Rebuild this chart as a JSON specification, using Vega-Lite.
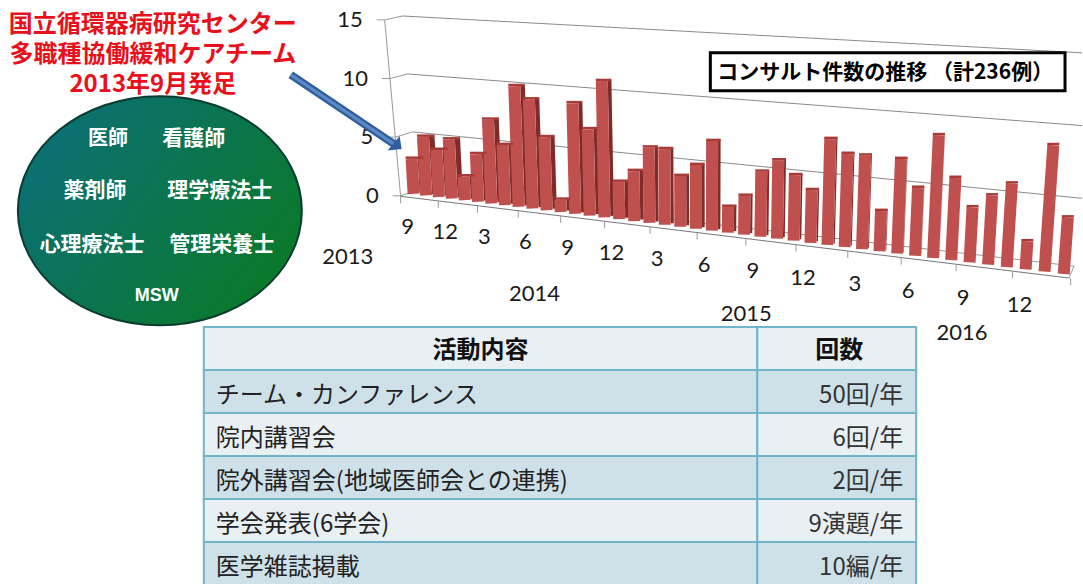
{"$schema":"https://vega.github.io/schema/vega-lite/v6.json","width":1083,"height":584,"padding":0,"autosize":{"type":"fit","contains":"padding"},"background":"white","config":{"view":{"stroke":null},"axis":{"disable":true},"text":{"font":"Noto Sans CJK JP"}},
"datasets":{
"bars":[{"i":0,"month":"2013-09","count":3},{"i":1,"month":"2013-10","count":5},{"i":2,"month":"2013-11","count":4},{"i":3,"month":"2013-12","count":5},{"i":4,"month":"2014-01","count":2},{"i":5,"month":"2014-02","count":4},{"i":6,"month":"2014-03","count":7},{"i":7,"month":"2014-04","count":5},{"i":8,"month":"2014-05","count":10},{"i":9,"month":"2014-06","count":9},{"i":10,"month":"2014-07","count":6},{"i":11,"month":"2014-08","count":1},{"i":12,"month":"2014-09","count":9},{"i":13,"month":"2014-10","count":7},{"i":14,"month":"2014-11","count":11},{"i":15,"month":"2014-12","count":3},{"i":16,"month":"2015-01","count":4},{"i":17,"month":"2015-02","count":6},{"i":18,"month":"2015-03","count":6},{"i":19,"month":"2015-04","count":4},{"i":20,"month":"2015-05","count":5},{"i":21,"month":"2015-06","count":7},{"i":22,"month":"2015-07","count":2},{"i":23,"month":"2015-08","count":3},{"i":24,"month":"2015-09","count":5},{"i":25,"month":"2015-10","count":6},{"i":26,"month":"2015-11","count":5},{"i":27,"month":"2015-12","count":4},{"i":28,"month":"2016-01","count":8},{"i":29,"month":"2016-02","count":7},{"i":30,"month":"2016-03","count":7},{"i":31,"month":"2016-04","count":3},{"i":32,"month":"2016-05","count":7},{"i":33,"month":"2016-06","count":5},{"i":34,"month":"2016-07","count":9},{"i":35,"month":"2016-08","count":6},{"i":36,"month":"2016-09","count":4},{"i":37,"month":"2016-10","count":5},{"i":38,"month":"2016-11","count":6},{"i":39,"month":"2016-12","count":2},{"i":40,"month":"2017-01","count":9},{"i":41,"month":"2017-02","count":4}],
"yticks":[{"value":15},{"value":10},{"value":5},{"value":0}],
"xticks":[{"k":0,"label":"9"},{"k":1,"label":"12"},{"k":2,"label":"3"},{"k":3,"label":"6"},{"k":4,"label":"9"},{"k":5,"label":"12"},{"k":6,"label":"3"},{"k":7,"label":"6"},{"k":8,"label":"9"},{"k":9,"label":"12"},{"k":10,"label":"3"},{"k":11,"label":"6"},{"k":12,"label":"9"},{"k":13,"label":"12"},{"k":14,"label":""}],
"table":[{"row":"header","activity":"活動内容","times":"回数"},{"row":"r1","activity":"チーム・カンファレンス","times":"50回/年"},{"row":"r2","activity":"院内講習会","times":"6回/年"},{"row":"r3","activity":"院外講習会(地域医師会との連携)","times":"2回/年"},{"row":"r4","activity":"学会発表(6学会)","times":"9演題/年"},{"row":"r5","activity":"医学雑誌掲載","times":"10編/年"}]
},
"layer":[
{"layer":[
 {"data":{"name":"yticks"},
  "transform":[{"calculate":"401-datum.value*16/15","as":"fx"},{"calculate":"196.5-datum.value*11.77","as":"fy"},{"calculate":"418-datum.value","as":"bx"},{"calculate":"190.5-datum.value*11.63","as":"by"},{"calculate":"272-datum.value*14.6","as":"ry"},{"calculate":"datum.fx-8","as":"tl"},{"calculate":"1083","as":"re"},{"calculate":"datum.fx-22","as":"lx"}],
  "layer":[
  {"mark":{"type":"rule","color":"#999999","strokeWidth":1},"encoding":{"x":{"field":"tl","type":"quantitative","scale":{"domain":[0,1083]}},"x2":{"field":"fx"},"y":{"field":"fy","type":"quantitative","scale":{"domain":[0,584],"reverse":true}},"y2":{"field":"fy"}}},
  {"mark":{"type":"rule","color":"#999999","strokeWidth":1},"encoding":{"x":{"field":"fx","type":"quantitative","scale":{"domain":[0,1083]}},"x2":{"field":"bx"},"y":{"field":"fy","type":"quantitative","scale":{"domain":[0,584],"reverse":true}},"y2":{"field":"by"}}},
  {"transform":[{"filter":"datum.value>0"}],"mark":{"type":"rule","color":"#8a8a8a","strokeWidth":1},"encoding":{"x":{"field":"bx","type":"quantitative","scale":{"domain":[0,1083]}},"x2":{"field":"re"},"y":{"field":"by","type":"quantitative","scale":{"domain":[0,584],"reverse":true}},"y2":{"field":"ry"}}},
  {"mark":{"type":"text","font":"Lato","fontSize":22,"align":"right","baseline":"middle","color":"#1a1a1a"},"encoding":{"x":{"field":"lx","type":"quantitative","scale":{"domain":[0,1083]}},"y":{"field":"fy","type":"quantitative","scale":{"domain":[0,584],"reverse":true}},"text":{"field":"value","type":"quantitative"}}}
 ]},
 {"data":{"values":[{"edge":"axis"}]},"mark":{"type":"rule","color":"#999999","strokeWidth":1},"encoding":{"x":{"datum":385,"scale":{"domain":[0,1083]}},"x2":{"datum":401},"y":{"datum":20,"scale":{"domain":[0,584],"reverse":true}},"y2":{"datum":197}}},
 {"data":{"values":[{"edge":"floor back"}]},"mark":{"type":"rule","color":"#999999","strokeWidth":1},"encoding":{"x":{"datum":418,"scale":{"domain":[0,1083]}},"x2":{"datum":1075},"y":{"datum":190.5,"scale":{"domain":[0,584],"reverse":true}},"y2":{"datum":267}}},
 {"data":{"values":[{"edge":"floor front"}]},"mark":{"type":"rule","color":"#777777","strokeWidth":1},"encoding":{"x":{"datum":401,"scale":{"domain":[0,1083]}},"x2":{"datum":1070},"y":{"datum":197,"scale":{"domain":[0,584],"reverse":true}},"y2":{"datum":279}}},
 {"data":{"values":[{"edge":"floor right"}]},"mark":{"type":"rule","color":"#999999","strokeWidth":1},"encoding":{"x":{"datum":1070,"scale":{"domain":[0,1083]}},"x2":{"datum":1075},"y":{"datum":279,"scale":{"domain":[0,584],"reverse":true}},"y2":{"datum":267}}},
 {"data":{"name":"xticks"},
  "transform":[{"calculate":"401+36.9*datum.k+0.786*datum.k*datum.k","as":"tx"},{"calculate":"197+(datum.tx-401)*0.1226","as":"t0"},{"calculate":"datum.t0+7","as":"t1"},{"calculate":"datum.tx+7","as":"lx"},{"calculate":"228+(datum.lx-407)*0.128","as":"ly"}],
  "layer":[
  {"mark":{"type":"rule","color":"#999999","strokeWidth":1},"encoding":{"x":{"field":"tx","type":"quantitative","scale":{"domain":[0,1083]}},"y":{"field":"t0","type":"quantitative","scale":{"domain":[0,584],"reverse":true}},"y2":{"field":"t1"}}},
  {"mark":{"type":"text","font":"Lato","fontSize":22,"align":"center","baseline":"middle","color":"#1a1a1a"},"encoding":{"x":{"field":"lx","type":"quantitative","scale":{"domain":[0,1083]}},"y":{"field":"ly","type":"quantitative","scale":{"domain":[0,584],"reverse":true}},"text":{"field":"label","type":"nominal"}}}
 ]},
 {"data":{"name":"bars"},
  "transform":[{"calculate":"414+12.48*datum.i+0.0827*datum.i*datum.i","as":"bx"},{"calculate":"194.5+(datum.bx-414)*0.1237","as":"by"},{"calculate":"datum.count*(11.7+(datum.bx-414)*0.0038)","as":"h"},{"calculate":"datum.bx+datum.h*(datum.bx-700)*0.0002","as":"tx"},{"calculate":"datum.by-datum.h","as":"ty"},{"calculate":"max(0,(950-datum.bx)*0.0105)","as":"sw"},{"calculate":"datum.bx+6+datum.sw/2","as":"sbx"},{"calculate":"datum.tx+6+datum.sw/2","as":"stx"},{"calculate":"datum.by-1.5","as":"sby"},{"calculate":"datum.ty-1.5","as":"sty"},{"calculate":"datum.tx-6","as":"cl"},{"calculate":"datum.tx+6+datum.sw","as":"cr"},{"calculate":"datum.ty-1.2","as":"cy"}],
  "layer":[
  {"mark":{"type":"rule","color":"#7f2b29"},"encoding":{"x":{"field":"sbx","type":"quantitative","scale":{"domain":[0,1083]}},"x2":{"field":"stx"},"y":{"field":"sby","type":"quantitative","scale":{"domain":[0,584],"reverse":true}},"y2":{"field":"sty"},"size":{"field":"sw","type":"quantitative","scale":null}}},
  {"mark":{"type":"rule","color":"#c0504d","strokeWidth":12},"encoding":{"x":{"field":"bx","type":"quantitative","scale":{"domain":[0,1083]}},"x2":{"field":"tx"},"y":{"field":"by","type":"quantitative","scale":{"domain":[0,584],"reverse":true}},"y2":{"field":"ty"}}},
  {"mark":{"type":"rule","color":"#a83b38","strokeWidth":2.5},"encoding":{"x":{"field":"cl","type":"quantitative","scale":{"domain":[0,1083]}},"x2":{"field":"cr"},"y":{"field":"cy","type":"quantitative","scale":{"domain":[0,584],"reverse":true}},"y2":{"field":"cy"}}}
 ]},
 {"data":{"values":[{"year":"2013"}]},"mark":{"type":"text","font":"Lato","fontSize":22,"align":"center","baseline":"middle","color":"#1a1a1a"},"encoding":{"x":{"datum":348,"scale":{"domain":[0,1083]}},"y":{"datum":258,"scale":{"domain":[0,584],"reverse":true}},"text":{"field":"year"}}},
 {"data":{"values":[{"year":"2014"}]},"mark":{"type":"text","font":"Lato","fontSize":22,"align":"center","baseline":"middle","color":"#1a1a1a"},"encoding":{"x":{"datum":535,"scale":{"domain":[0,1083]}},"y":{"datum":295,"scale":{"domain":[0,584],"reverse":true}},"text":{"field":"year"}}},
 {"data":{"values":[{"year":"2015"}]},"mark":{"type":"text","font":"Lato","fontSize":22,"align":"center","baseline":"middle","color":"#1a1a1a"},"encoding":{"x":{"datum":747,"scale":{"domain":[0,1083]}},"y":{"datum":315,"scale":{"domain":[0,584],"reverse":true}},"text":{"field":"year"}}},
 {"data":{"values":[{"year":"2016"}]},"mark":{"type":"text","font":"Lato","fontSize":22,"align":"center","baseline":"middle","color":"#1a1a1a"},"encoding":{"x":{"datum":963,"scale":{"domain":[0,1083]}},"y":{"datum":334,"scale":{"domain":[0,584],"reverse":true}},"text":{"field":"year"}}},
 {"data":{"values":[{"note":"arrow shaft"}]},"mark":{"type":"rule","color":"#2f5f9f","strokeWidth":8},"encoding":{"x":{"datum":291,"scale":{"domain":[0,1083]}},"x2":{"datum":395},"y":{"datum":75,"scale":{"domain":[0,584],"reverse":true}},"y2":{"datum":145}}},
 {"data":{"values":[{"note":"arrow shaft highlight"}]},"mark":{"type":"rule","color":"#5f8ac4","strokeWidth":3},"encoding":{"x":{"datum":291,"scale":{"domain":[0,1083]}},"x2":{"datum":395},"y":{"datum":75,"scale":{"domain":[0,584],"reverse":true}},"y2":{"datum":145}}},
 {"data":{"values":[{"note":"arrow head"}]},"mark":{"type":"point","shape":"M0,0 L-14,1.5 L-2,-13 Z","size":4,"filled":true,"fill":"#2f5f9f","opacity":1},"encoding":{"x":{"datum":402,"scale":{"domain":[0,1083]}},"y":{"datum":149.5,"scale":{"domain":[0,584],"reverse":true}}}},
 {"data":{"values":[{"note":"title box"}]},"mark":{"type":"rect","fill":"white","stroke":"black","strokeWidth":3},"encoding":{"x":{"datum":711,"scale":{"domain":[0,1083]}},"x2":{"datum":1066},"y":{"datum":53,"scale":{"domain":[0,584],"reverse":true}},"y2":{"datum":91}}},
 {"data":{"values":[{"t":"コンサルト件数の推移 （計236例）"}]},"mark":{"type":"text","fontSize":21,"fontWeight":"bold","align":"center","baseline":"middle","dy":1,"color":"black"},"encoding":{"x":{"datum":886,"scale":{"domain":[0,1083]}},"y":{"datum":72,"scale":{"domain":[0,584],"reverse":true}},"text":{"field":"t"}}},
 {"data":{"values":[{"t":"国立循環器病研究センター\n多職種協働緩和ケアチーム\n2013年9月発足"}]},"mark":{"type":"text","fontSize":24,"fontWeight":"bold","align":"center","baseline":"middle","dy":2,"lineBreak":"\n","lineHeight":30,"color":"#e8101a"},"encoding":{"x":{"datum":153,"scale":{"domain":[0,1083]}},"y":{"datum":23,"scale":{"domain":[0,584],"reverse":true}},"text":{"field":"t"}}},
 {"data":{"values":[{"note":"team oval"}]},"mark":{"type":"point","shape":"M-142,0 A142,114.5 0 1 1 142,0 A142,114.5 0 1 1 -142,0 Z","size":4,"filled":true,"opacity":1,"fill":{"gradient":"linear","x1":0,"y1":0.2,"x2":1,"y2":0.8,"stops":[{"offset":0,"color":"#0b6f78"},{"offset":1,"color":"#0a7a25"}]},"stroke":"#0c3b30","strokeWidth":2},"encoding":{"x":{"datum":160,"scale":{"domain":[0,1083]}},"y":{"datum":211.5,"scale":{"domain":[0,584],"reverse":true}}}},
 {"data":{"values":[{"t":"医師"}]},"mark":{"type":"text","fontSize":20,"fontWeight":"bold","dy":1,"align":"center","baseline":"middle","color":"white"},"encoding":{"x":{"datum":108,"scale":{"domain":[0,1083]}},"y":{"datum":138,"scale":{"domain":[0,584],"reverse":true}},"text":{"field":"t"}}},
 {"data":{"values":[{"t":"看護師"}]},"mark":{"type":"text","fontSize":21,"fontWeight":"bold","dy":1,"align":"center","baseline":"middle","color":"white"},"encoding":{"x":{"datum":194,"scale":{"domain":[0,1083]}},"y":{"datum":138,"scale":{"domain":[0,584],"reverse":true}},"text":{"field":"t"}}},
 {"data":{"values":[{"t":"薬剤師"}]},"mark":{"type":"text","fontSize":21,"fontWeight":"bold","dy":1,"align":"center","baseline":"middle","color":"white"},"encoding":{"x":{"datum":95,"scale":{"domain":[0,1083]}},"y":{"datum":191,"scale":{"domain":[0,584],"reverse":true}},"text":{"field":"t"}}},
 {"data":{"values":[{"t":"理学療法士"}]},"mark":{"type":"text","fontSize":21,"fontWeight":"bold","dy":1,"align":"center","baseline":"middle","color":"white"},"encoding":{"x":{"datum":220,"scale":{"domain":[0,1083]}},"y":{"datum":191,"scale":{"domain":[0,584],"reverse":true}},"text":{"field":"t"}}},
 {"data":{"values":[{"t":"心理療法士"}]},"mark":{"type":"text","fontSize":21,"fontWeight":"bold","dy":1,"align":"center","baseline":"middle","color":"white"},"encoding":{"x":{"datum":92,"scale":{"domain":[0,1083]}},"y":{"datum":245,"scale":{"domain":[0,584],"reverse":true}},"text":{"field":"t"}}},
 {"data":{"values":[{"t":"管理栄養士"}]},"mark":{"type":"text","fontSize":21,"fontWeight":"bold","dy":1,"align":"center","baseline":"middle","color":"white"},"encoding":{"x":{"datum":222,"scale":{"domain":[0,1083]}},"y":{"datum":245,"scale":{"domain":[0,584],"reverse":true}},"text":{"field":"t"}}},
 {"data":{"values":[{"t":"MSW"}]},"mark":{"type":"text","font":"Liberation Sans","fontSize":18,"fontWeight":"bold","dy":1,"align":"center","baseline":"middle","color":"white"},"encoding":{"x":{"datum":157,"scale":{"domain":[0,1083]}},"y":{"datum":296,"scale":{"domain":[0,584],"reverse":true}},"text":{"field":"t"}}}
]},
{"data":{"name":"table"},
 "layer":[
 {"mark":{"type":"rect","stroke":"#6fb4c8","strokeWidth":2},"encoding":{"x":{"datum":204,"scale":{"domain":[0,1083]}},"x2":{"datum":758},"y":{"field":"row","type":"nominal","scale":{"domain":["header","r1","r2","r3","r4","r5"],"range":[327,585],"paddingInner":0,"paddingOuter":0}},"color":{"field":"row","type":"nominal","legend":null,"scale":{"domain":["header","r1","r2","r3","r4","r5"],"range":["#e9f0f4","#cfe1e8","#e9f0f4","#cfe1e8","#e9f0f4","#cfe1e8"]}}}},
 {"mark":{"type":"rect","stroke":"#6fb4c8","strokeWidth":2},"encoding":{"x":{"datum":758,"scale":{"domain":[0,1083]}},"x2":{"datum":917},"y":{"field":"row","type":"nominal","scale":{"domain":["header","r1","r2","r3","r4","r5"],"range":[327,585],"paddingInner":0,"paddingOuter":0}},"color":{"field":"row","type":"nominal","legend":null,"scale":{"domain":["header","r1","r2","r3","r4","r5"],"range":["#e9f0f4","#cfe1e8","#e9f0f4","#cfe1e8","#e9f0f4","#cfe1e8"]}}}},
 {"transform":[{"filter":"datum.row==='header'"}],"mark":{"type":"text","fontSize":24,"fontWeight":"bold","dy":2,"align":"center","baseline":"middle","color":"#111111"},"encoding":{"x":{"datum":481,"scale":{"domain":[0,1083]}},"y":{"field":"row","type":"nominal","scale":{"domain":["header","r1","r2","r3","r4","r5"],"range":[327,585],"paddingInner":0,"paddingOuter":0}},"text":{"field":"activity"}}},
 {"transform":[{"filter":"datum.row==='header'"}],"mark":{"type":"text","fontSize":24,"fontWeight":"bold","dy":2,"align":"center","baseline":"middle","color":"#111111"},"encoding":{"x":{"datum":840,"scale":{"domain":[0,1083]}},"y":{"field":"row","type":"nominal","scale":{"domain":["header","r1","r2","r3","r4","r5"],"range":[327,585],"paddingInner":0,"paddingOuter":0}},"text":{"field":"times"}}},
 {"transform":[{"filter":"datum.row!=='header'"}],"mark":{"type":"text","fontSize":24,"dy":4,"align":"left","baseline":"middle","color":"#222222"},"encoding":{"x":{"datum":216,"scale":{"domain":[0,1083]}},"y":{"field":"row","type":"nominal","scale":{"domain":["header","r1","r2","r3","r4","r5"],"range":[327,585],"paddingInner":0,"paddingOuter":0}},"text":{"field":"activity"}}},
 {"transform":[{"filter":"datum.row!=='header'"}],"mark":{"type":"text","fontSize":24,"dy":4,"align":"right","baseline":"middle","color":"#333333"},"encoding":{"x":{"datum":904,"scale":{"domain":[0,1083]}},"y":{"field":"row","type":"nominal","scale":{"domain":["header","r1","r2","r3","r4","r5"],"range":[327,585],"paddingInner":0,"paddingOuter":0}},"text":{"field":"times"}}}
]}
],
"resolve":{"scale":{"y":"independent","color":"independent"}}
}
